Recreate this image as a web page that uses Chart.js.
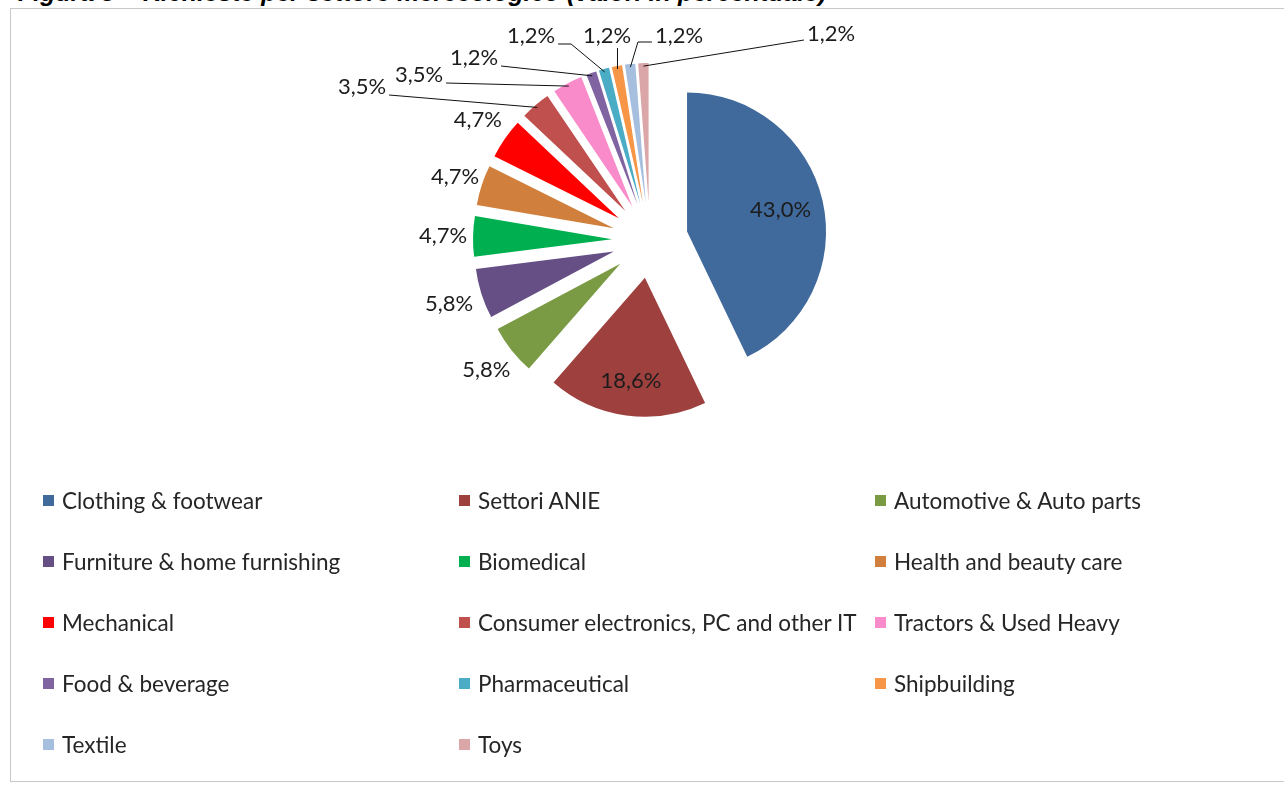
<!DOCTYPE html>
<html>
<head>
<meta charset="utf-8">
<script src="https://cdn.jsdelivr.net/npm/chart.js@4.4.1/dist/chart.umd.min.js"></script>
<style>
  html, body { margin:0; padding:0; background:#fff; width:1284px; height:785px; overflow:hidden; }
  #title { position:absolute; left:18px; top:-22px; font:italic bold 25px "Liberation Sans", Arial, sans-serif; color:#000; white-space:nowrap; }
  #frame { position:absolute; left:10px; top:8px; width:1300px; height:774px; border:1px solid #c8c8c8; box-sizing:border-box; }
  #c { position:absolute; left:0; top:0; }
  #legend { position:absolute; left:43px; top:470px; display:grid; grid-template-columns:416px 416px 416px; grid-auto-rows:61px; font:22.5px Lato, "Open Sans", sans-serif; color:#262626; }
  #legend .item { display:flex; align-items:center; white-space:nowrap; }
  #legend .sw { width:11px; height:11px; margin-right:8px; flex:none; }
</style>
</head>
<body>
<div id="title">Figura 5 – Richieste per settore merceologico (valori in percentuale)</div>
<div id="frame"></div>
<canvas id="c" width="1284" height="785"></canvas>
<div id="legend"></div>
<script>
// ---- data ----
const categories = [
  "Clothing & footwear", "Settori ANIE", "Automotive & Auto parts",
  "Furniture & home furnishing", "Biomedical", "Health and beauty care",
  "Mechanical", "Consumer electronics, PC and other IT", "Tractors & Used Heavy",
  "Food & beverage", "Pharmaceutical", "Shipbuilding",
  "Textile", "Toys"
];
const shares = [43.0, 18.6, 5.8, 5.8, 4.7, 4.7, 4.7, 3.5, 3.5, 1.2, 1.2, 1.2, 1.2, 1.2];
const colors = [
  "#40699C", "#9E413E", "#7A9A44", "#654F85", "#00B050", "#D0803C", "#FF0000",
  "#C0504D", "#FA8BCB", "#8064A2", "#4BACC6", "#F79646", "#A7BFDE", "#DBA6A8"
];

// ---- label layout (placement only, not data) ----
const labelLayout = [
  {type:'inside', r:0.69},
  {type:'inside', r:0.75},
  {type:'outside', gap:32},
  {type:'outside', gap:34},
  {type:'outside', gap:30},
  {type:'outside', gap:28},
  {type:'outside', gap:33},
  {type:'leader', dx:-288, dy:-153, side:'right', elbow:0},
  {type:'leader', dx:-231, dy:-165, side:'right', elbow:0},
  {type:'leader', dx:-176, dy:-182, side:'right', elbow:0},
  {type:'leader', dx:-119, dy:-204, side:'right', elbow:13},
  {type:'leader', dx:-43,  dy:-204, side:'bottom', elbow:0},
  {type:'leader', dx:29,   dy:-204, side:'left', elbow:14},
  {type:'leader', dx:181,  dy:-206, side:'left', elbow:0}
];

const fmt = v => v.toFixed(1).replace('.', ',') + '%';

const explodePlugin = {
  id: 'explode',
  beforeDatasetDraw(chart, args, opts) {
    const ctx = chart.ctx;
    const d = opts.distance || 0;
    args.meta.data.forEach(arc => {
      const mid = (arc.startAngle + arc.endAngle) / 2;
      ctx.save();
      ctx.translate(Math.cos(mid) * d, Math.sin(mid) * d);
      arc.draw(ctx, chart.chartArea);
      ctx.restore();
    });
    return false;
  }
};

const labelPlugin = {
  id: 'sliceLabels',
  afterDatasetsDraw(chart, args, opts) {
    const ctx = chart.ctx;
    const meta = chart.getDatasetMeta(0);
    const d = chart.options.plugins.explode.distance;
    ctx.save();
    ctx.font = opts.font;
    ctx.textAlign = 'center';
    ctx.textBaseline = 'middle';
    meta.data.forEach((arc, i) => {
      const mid = (arc.startAngle + arc.endAngle) / 2;
      const ux = Math.cos(mid), uy = Math.sin(mid);
      const ax = arc.x + ux * d, ay = arc.y + uy * d;  // exploded apex
      const R = arc.outerRadius;
      const L = labelLayout[i];
      const text = fmt(shares[i]);
      let lx, ly;
      if (L.type === 'inside') {
        lx = ax + ux * R * L.r; ly = ay + uy * R * L.r;
      } else if (L.type === 'outside') {
        lx = ax + ux * (R + L.gap); ly = ay + uy * (R + L.gap);
      } else {
        lx = arc.x + L.dx; ly = arc.y + L.dy;
        const hw = ctx.measureText(text).width / 2;
        const px = ax + ux * (R - 3), py = ay + uy * (R - 3);
        let sx, sy;
        if (L.side === 'right') { sx = lx + hw + 3; sy = ly + 8; }
        else if (L.side === 'left') { sx = lx - hw - 3; sy = ly + 6; }
        else { sx = px; sy = ly + 12; }
        ctx.beginPath();
        ctx.strokeStyle = '#111';
        ctx.lineWidth = 1;
        ctx.moveTo(sx, sy);
        if (L.elbow) {
          const ex = sx + (L.side === 'left' ? -L.elbow : L.elbow);
          ctx.lineTo(ex, sy);
        }
        ctx.lineTo(px, py);
        ctx.stroke();
      }
      ctx.fillStyle = opts.color;
      ctx.fillText(text, lx, ly);
    });
    ctx.restore();
  }
};

const chart = new Chart(document.getElementById('c'), {
  type: 'pie',
  data: {
    labels: categories,
    datasets: [{
      data: shares,
      backgroundColor: colors,
      borderWidth: 0
    }]
  },
  options: {
    responsive: false,
    animation: false,
    radius: 139,
    layout: { padding: { left: 450, right: 434, top: 40, bottom: 345 } },
    plugins: {
      legend: { display: false },
      tooltip: { enabled: false },
      explode: { distance: 38 },
      sliceLabels: { font: '22px Lato, "Open Sans", sans-serif', color: '#1c1c1c' }
    }
  },
  plugins: [explodePlugin, labelPlugin]
});

// HTML legend built from the chart's own labels and colours
const lg = document.getElementById('legend');
chart.data.labels.forEach((lab, i) => {
  const it = document.createElement('div');
  it.className = 'item';
  const sw = document.createElement('span');
  sw.className = 'sw';
  sw.style.background = chart.data.datasets[0].backgroundColor[i];
  const tx = document.createElement('span');
  tx.textContent = lab;
  it.appendChild(sw); it.appendChild(tx);
  lg.appendChild(it);
});
</script>
</body>
</html>
